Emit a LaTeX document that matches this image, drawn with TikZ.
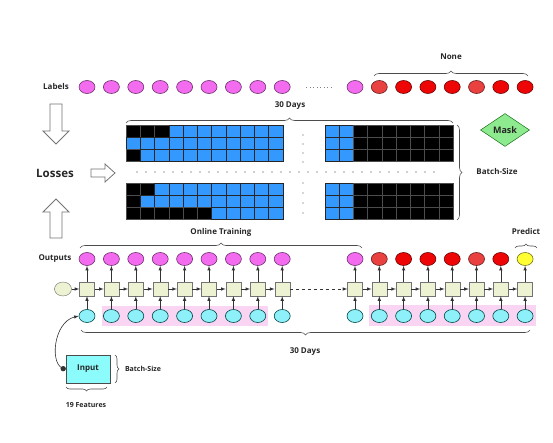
\documentclass[tikz,border=0pt]{standalone}
\usepackage{fontspec}
\setmainfont{Open Sans}
\usetikzlibrary{shapes, arrows, positioning, decorations.pathreplacing}
\definecolor{LabelPink}{HTML}{F36CF0}
\definecolor{DayRed}{HTML}{EE0606}
\definecolor{DayRedLight}{HTML}{E94040}
\definecolor{CellCyan}{HTML}{8EF0F8}
\definecolor{InputCyan}{HTML}{8CFBFB}
\definecolor{StateGreen}{HTML}{EDF3D2}
\definecolor{Highlight}{HTML}{FAD4F3}
\definecolor{MaskBlue}{HTML}{3399FF}
\definecolor{MaskGreen}{HTML}{8EEA8E}
\definecolor{PredYellow}{HTML}{FFFF33}
\def\ColX{87,111.4,135.8,160.2,184.6,209,233.4,257.8,282.2,355,379.3,403.6,427.9,452.2,476.5,500.8,525.1}
\tikzstyle{tag} = [font=\bfseries\fontsize{8}{9}\selectfont, text=black!85]
\tikzstyle{smalltag} = [font=\bfseries\fontsize{7}{8}\selectfont, text=black!85]
\tikzstyle{dayball} = [ellipse, minimum width=16pt, minimum height=13pt, inner sep=0, line width=0.6pt]
\tikzstyle{inball} = [dayball, fill=CellCyan, draw=teal!55!black]
\tikzstyle{state} = [rectangle, draw=black!55, fill=StateGreen, minimum width=15pt, minimum height=14pt, inner sep=0]
\tikzstyle{flow} = [-latex, black!80, line width=0.6pt]
\tikzstyle{brace} = [decorate, decoration={brace, amplitude=5pt}, draw=black!70, line width=0.6pt]
\tikzstyle{blockarrow} = [draw=black!55, fill=white, line width=0.8pt]
\tikzstyle{gridcell} = [line width=0.5pt]

\begin{document}
\begin{tikzpicture}[x=1pt, y=-1pt]
	\useasboundingbox (0,0) rectangle (553,443);

	% loss side
	\node (Losses) [font=\bfseries\fontsize{11.5}{13}\selectfont, text=black!85] at (55,173) {Losses};
	\draw [blockarrow] (50,104) -- (62,104) -- (62,131) -- (69,131) -- (56,144) -- (43,131) -- (50,131) -- cycle;
	\draw [blockarrow] (50,238) -- (62,238) -- (62,212) -- (69,212) -- (56,199) -- (43,212) -- (50,212) -- cycle;
	\draw [blockarrow] (91,169) -- (105,169) -- (105,164) -- (115,173) -- (105,182) -- (105,177) -- (91,177) -- cycle;

	% labels
	\node (LabelsTxt) [tag] at (56,87) {Labels};
	\foreach \x/\c [count=\i] in {87/LabelPink, 111.4/LabelPink, 135.8/LabelPink, 160.2/LabelPink,
			184.6/LabelPink, 209/LabelPink, 233.4/LabelPink, 257.8/LabelPink, 282.2/LabelPink,
			355/LabelPink, 379.3/DayRedLight, 403.6/DayRed, 427.9/DayRed, 452.2/DayRed,
			476.5/DayRedLight, 500.8/DayRed, 525.1/DayRed}
		\node (Lab\i) [dayball, fill=\c, draw=\c!45!black] at (\x,87) {};
	\draw [black!50, line width=0.8pt, dash pattern=on 1pt off 2.5pt] (306,87) -- (331,87);
	\draw [brace] (374,76) -- (528,76);
	\node (NoneTxt) [tag] at (451,57) {None};

	% mask grid
	\draw [brace] (126,123) -- (453,123);
	\node (DaysTop) [tag] at (290,106) {30 Days};
	\foreach \yo/\nblist in {125.3/{3,0,1}, 183.3/{2,1,6}} {
		\foreach \nb [count=\r] in \nblist {
			\foreach \c in {1,...,11} {
				\ifnum\c>\nb \def\cc{MaskBlue}\def\dd{black!85}\else\def\cc{black}\def\dd{black!70}\fi
				\draw [gridcell, fill=\cc, draw=\dd] (126+14.27*\c-14.27, \yo+12*\r-12) rectangle ++(14.27,12);
			}
			\foreach \c in {1,...,9} {
				\ifnum\c>2 \def\cc{black}\def\dd{black!70}\else\def\cc{MaskBlue}\def\dd{black!85}\fi
				\draw [gridcell, fill=\cc, draw=\dd] (325+14.22*\c-14.22, \yo+12*\r-12) rectangle ++(14.22,12);
			}
		}
	}
	\foreach \y in {135,144,153,162,183,193,203,213}
		\fill [black!70] (303,\y) circle (0.6);
	\foreach \x in {137,146,...,437}
		\fill [black!80] (\x,172) circle (0.7);
	\draw [brace] (457,125) -- (457,220);
	\node (BatchGrid) [tag] at (497,172) {Batch-Size};
	\node (Mask) [diamond, draw=green!35!black, fill=MaskGreen, minimum width=49pt, minimum height=33pt,
		inner sep=0, font=\bfseries\fontsize{9}{10}\selectfont, text=black!85] at (505,130) {Mask};

	% highlighted inputs
	\fill [Highlight] (102,306) rectangle (268,326);
	\fill [Highlight] (369,305) rectangle (536,326);

	% network
	\node (OutputsTxt) [tag] at (55,259) {Outputs};
	\node (Init) [ellipse, draw=black!60, fill=StateGreen, minimum width=17pt, minimum height=14pt, inner sep=0] at (63,289) {};
	\foreach \x [count=\i] in \ColX {
		\node (In\i) [inball] at (\x,316) {};
		\node (Hid\i) [state] at (\x,289) {};
		\draw [flow] (In\i) -- (Hid\i);
	}
	\foreach \x/\c [count=\i] in {87/LabelPink, 111.4/LabelPink, 135.8/LabelPink, 160.2/LabelPink,
			184.6/LabelPink, 209/LabelPink, 233.4/LabelPink, 257.8/LabelPink, 282.2/LabelPink,
			355/LabelPink, 379.3/DayRedLight, 403.6/DayRed, 427.9/DayRed, 452.2/DayRed,
			476.5/DayRedLight, 500.8/DayRed, 525.1/PredYellow} {
		\node (Out\i) [dayball, fill=\c, draw=\c!45!black] at (\x,259) {};
		\draw [flow] (Hid\i) -- (Out\i);
	}
	\draw [flow] (Init) -- (Hid1);
	\foreach \i [evaluate=\i as \j using int(\i+1)] in {1,...,8,10,11,...,16}
		\draw [flow] (Hid\i) -- (Hid\j);
	\draw [flow, dashed] (Hid9) -- (Hid10);

	\draw [brace] (80,248) -- (362,248);
	\node (OnlineTxt) [tag] at (221,232) {Online Training};
	\draw [brace, decoration={amplitude=4pt}] (515,248) -- (537,248);
	\node (PredictTxt) [tag] at (526,232) {Predict};
	\draw [brace] (530,330) -- (81,330);
	\node (DaysBottom) [tag] at (305,352) {30 Days};

	% input
	\node (Input) [rectangle, draw=black!70, fill=InputCyan, minimum width=44pt, minimum height=28pt,
		font=\bfseries\fontsize{8}{9}\selectfont, text=black!85] at (88,369) {Input};
	\draw [*-latex, black!80, line width=0.6pt] (Input.west) .. controls (49,367) and (53,322) .. (In1.west);
	\draw [brace, decoration={amplitude=4pt}] (115,355) -- (115,383);
	\node (BatchInput) [smalltag] at (143,369) {Batch-Size};
	\draw [brace, decoration={amplitude=4pt}] (107,387) -- (66,387);
	\node (FeaturesTxt) [smalltag] at (86,405) {19 Features};
\end{tikzpicture}
\end{document}
